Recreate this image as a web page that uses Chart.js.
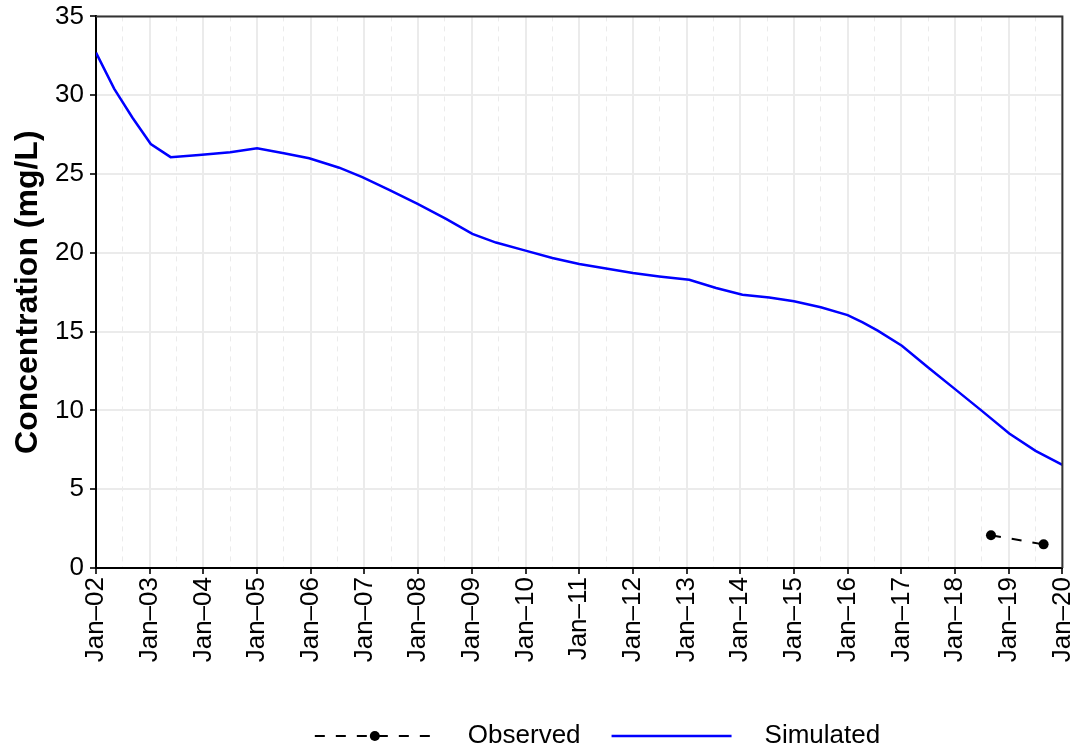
<!DOCTYPE html>
<html>
<head>
<meta charset="utf-8">
<script src="https://cdn.jsdelivr.net/npm/chart.js@4.4.0/dist/chart.umd.min.js"></script>
<style>
html,body{margin:0;padding:0;background:#fff;}
#wrap{width:1081px;height:753px;}
</style>
</head>
<body>
<div id="wrap"><canvas id="c" width="1081" height="753"></canvas></div>
<script>
// Simulated concentration (decimal year, mg/L)
const simYears = [2002.0, 2002.34, 2002.68, 2003.02, 2003.39, 2003.92, 2004.5, 2005.0, 2005.5, 2005.97, 2006.34, 2006.53, 2006.96, 2007.46, 2007.99, 2008.52, 2009.01, 2009.45, 2010.0, 2010.5, 2011.0, 2011.5, 2012.0, 2012.49, 2013.05, 2013.55, 2014.04, 2014.54, 2015.0, 2015.5, 2016.0, 2016.28, 2016.56, 2017.01, 2017.5, 2018.0, 2018.5, 2019.01, 2019.5, 2020.0];
const simValues = [32.7, 30.4, 28.57, 26.9, 26.07, 26.2, 26.38, 26.64, 26.32, 26.0, 25.6, 25.4, 24.8, 24.0, 23.1, 22.15, 21.2, 20.65, 20.14, 19.67, 19.29, 19.0, 18.72, 18.5, 18.29, 17.77, 17.34, 17.17, 16.92, 16.54, 16.05, 15.58, 15.06, 14.1, 12.72, 11.35, 9.97, 8.53, 7.43, 6.55];
// Observed concentration
const obsYears = [2018.67, 2019.65];
const obsValues = [2.08, 1.5];
// Axis settings
const xMin = 2002, xMax = 2020;
const yMin = 0, yMax = 35, yStep = 5;
const tickMonth = 'Jan';
const seriesNames = ['Observed', 'Simulated'];

const FONT = "'Liberation Sans', Arial, Helvetica, sans-serif";
const LEG_PAD = 3, LEG_LEAD = 28, LEG_GLYPH = 120, LEG_TAIL = 20, LEG_SHIFT = 43;
const OBS_DASH = [10, 11];

const toXY = (xs, ys) => xs.map((x, i) => ({x: x, y: ys[i]}));
const isMajor = v => Math.abs(v - Math.round(v)) < 1e-6;

const framePlugin = {
  id: 'frame',
  afterLayout(chart) {
    const lg = chart.legend;
    if (lg) { lg.left += LEG_SHIFT; lg.right += LEG_SHIFT; }
  },
  afterDraw(chart) {
    const {ctx, chartArea: a} = chart;
    ctx.save();
    ctx.strokeStyle = '#333333';
    ctx.lineWidth = 2;
    ctx.beginPath();
    ctx.moveTo(a.left, a.top);
    ctx.lineTo(a.right, a.top);
    ctx.lineTo(a.right, a.bottom);
    ctx.stroke();
    // legend glyphs
    const lg = chart.legend;
    if (lg && lg.legendHitBoxes) {
      lg.legendHitBoxes.forEach((hb, i) => {
        const x0 = hb.left + LEG_LEAD, x1 = x0 + LEG_GLYPH;
        const y = hb.top + hb.height / 2;
        ctx.beginPath();
        if (i === 0) {
          ctx.strokeStyle = '#000';
          ctx.lineWidth = 2;
          ctx.setLineDash(OBS_DASH);
        } else {
          ctx.strokeStyle = '#0000ff';
          ctx.lineWidth = 2.5;
          ctx.setLineDash([]);
        }
        ctx.moveTo(x0, y);
        ctx.lineTo(x1, y);
        ctx.stroke();
        ctx.setLineDash([]);
        if (i === 0) {
          ctx.fillStyle = '#000';
          ctx.beginPath();
          ctx.arc((x0 + x1) / 2, y, 5, 0, Math.PI * 2);
          ctx.fill();
        }
      });
    }
    ctx.restore();
  }
};

new Chart(document.getElementById('c'), {
  type: 'line',
  data: {
    datasets: [
      {
        label: seriesNames[0],
        data: toXY(obsYears, obsValues),
        borderColor: '#000000',
        backgroundColor: '#000000',
        borderWidth: 2,
        borderDash: OBS_DASH,
        pointRadius: 5,
        pointBackgroundColor: '#000000',
        pointBorderWidth: 0,
        tension: 0
      },
      {
        label: seriesNames[1],
        data: toXY(simYears, simValues),
        borderColor: '#0000ff',
        backgroundColor: '#0000ff',
        borderWidth: 2.5,
        pointRadius: 0,
        tension: 0
      }
    ]
  },
  options: {
    responsive: false,
    animation: false,
    devicePixelRatio: 1,
    layout: {padding: {top: 0, right: 0, left: 0, bottom: -6}},
    plugins: {
      title: {display: false},
      tooltip: {enabled: false},
      legend: {
        position: 'bottom',
        labels: {
          font: {family: FONT, size: 26},
          color: '#000',
          boxWidth: LEG_LEAD + LEG_GLYPH + LEG_TAIL,
          boxHeight: 2,
          padding: LEG_PAD,
          usePointStyle: false,
          generateLabels: () => seriesNames.map((n, i) => ({
            text: n, fillStyle: 'rgba(0,0,0,0)', strokeStyle: 'rgba(0,0,0,0)', lineWidth: 0, datasetIndex: i
          }))
        }
      }
    },
    scales: {
      x: {
        type: 'linear',
        min: xMin,
        max: xMax,
        afterFit: (s) => { s.height = 152; },
        ticks: {
          stepSize: 0.5,
          autoSkip: false,
          maxRotation: 90,
          minRotation: 90,
          padding: 3,
          color: '#000',
          font: {family: FONT, size: 26, lineHeight: 0.6},
          callback: (v) => isMajor(v) ? tickMonth + '\u2013' + String(Math.round(v) % 100).padStart(2, '0') : ''
        },
        grid: {
          color: '#ebebeb',
          lineWidth: (c) => (c.tick && isMajor(c.tick.value)) ? 2 : 1,
          tickColor: (c) => (c.tick && isMajor(c.tick.value)) ? '#333333' : 'rgba(0,0,0,0)',
          tickLength: 6,
          tickWidth: 2
        },
        border: {
          display: true,
          color: '#000',
          width: 2,
          dash: (c) => (c.tick && !isMajor(c.tick.value)) ? [5, 5] : []
        }
      },
      y: {
        min: yMin,
        max: yMax,
        afterFit: (s) => { s.width = 96; },
        ticks: {
          stepSize: yStep,
          padding: 6,
          color: '#000',
          font: {family: FONT, size: 26, lineHeight: 0.8}
        },
        grid: {
          color: '#ebebeb',
          lineWidth: 2,
          tickColor: '#333333',
          tickLength: 6,
          tickWidth: 2
        },
        border: {display: true, color: '#000', width: 2},
        title: {
          display: true,
          text: 'Concentration (mg/L)',
          color: '#000',
          font: {family: FONT, size: 32, weight: 'bold'},
          padding: {top: 9, bottom: 0}
        }
      }
    }
  },
  plugins: [framePlugin]
});
</script>
</body>
</html>
